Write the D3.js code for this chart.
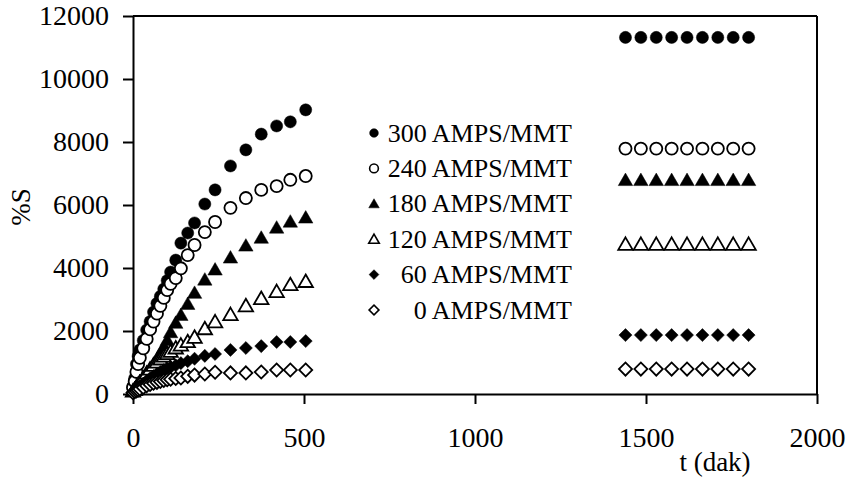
<!DOCTYPE html>
<html>
<head>
<meta charset="utf-8">
<script src="https://cdn.jsdelivr.net/npm/d3@7"></script>
<style>
body { margin: 0; background: #fff; }
text { font-family: "Liberation Serif", "Times New Roman", serif; fill: #000; }
</style>
</head>
<body>
<script>
// time points (dak) for the early measurements and the late plateau
var times = [0, 5, 10, 15, 20, 30, 40, 50, 60, 70, 80, 90, 100, 110, 125, 140, 160, 180, 210, 240, 285, 330, 375, 420, 460, 505];
var lateTimes = [1440, 1485, 1530, 1575, 1620, 1665, 1710, 1755, 1800];

// %S values
var s300 = [250, 500, 950, 1200, 1400, 1700, 2030, 2300, 2600, 2880, 3100, 3330, 3600, 3870, 4250, 4790, 5110, 5430, 6030, 6480, 7240, 7750, 8250, 8510, 8640, 9020];
var s240 = [200, 400, 700, 950, 1150, 1450, 1750, 2050, 2300, 2550, 2800, 3050, 3300, 3500, 3680, 3990, 4410, 4730, 5140, 5460, 5910, 6220, 6480, 6600, 6800, 6920];
var s180 = [100, 170, 250, 320, 400, 520, 650, 780, 950, 1100, 1300, 1480, 1700, 1950, 2250, 2500, 2850, 3200, 3620, 3940, 4320, 4700, 4950, 5270, 5460, 5590];
var s120 = [80, 130, 200, 280, 350, 500, 650, 780, 900, 1000, 1100, 1190, 1270, 1340, 1450, 1540, 1650, 1790, 2060, 2280, 2510, 2790, 3020, 3240, 3460, 3560];
var s60 = [60, 100, 150, 200, 250, 330, 420, 500, 570, 640, 700, 760, 810, 850, 910, 980, 1040, 1120, 1210, 1270, 1400, 1460, 1520, 1650, 1650, 1680];
var s0 = [40, 70, 100, 130, 160, 210, 260, 300, 340, 370, 400, 430, 450, 470, 490, 510, 560, 600, 635, 690, 670, 670, 700, 760, 760, 760];

var late300 = [11320, 11320, 11320, 11320, 11320, 11320, 11320, 11320, 11320];
var late240 = [7790, 7790, 7790, 7790, 7790, 7790, 7790, 7790, 7790];
var late180 = [6780, 6780, 6780, 6780, 6780, 6780, 6780, 6780, 6780];
var late120 = [4740, 4740, 4740, 4740, 4740, 4740, 4740, 4740, 4740];
var late60 = [1870, 1870, 1870, 1870, 1870, 1870, 1870, 1870, 1870];
var late0 = [790, 790, 790, 790, 790, 790, 790, 790, 790];

var names = ["300 AMPS/MMT", "240 AMPS/MMT", "180 AMPS/MMT", "120 AMPS/MMT", "60 AMPS/MMT", "0 AMPS/MMT"];
var xTicks = [0, 500, 1000, 1500, 2000];
var yTicks = [0, 2000, 4000, 6000, 8000, 10000, 12000];

var width = 851, height = 481;

var x = d3.scaleLinear().domain([0, 2000]).range([133, 817]);
var y = d3.scaleLinear().domain([0, 12000]).range([394, 16]);

var series = [
    {name: names[0], early: s300, late: late300, shape: "circle", filled: true},
    {name: names[1], early: s240, late: late240, shape: "circle", filled: false},
    {name: names[2], early: s180, late: late180, shape: "triangle", filled: true},
    {name: names[3], early: s120, late: late120, shape: "triangle", filled: false},
    {name: names[4], early: s60, late: late60, shape: "diamond", filled: true},
    {name: names[5], early: s0, late: late0, shape: "diamond", filled: false}
];

series.forEach(function(s) {
    s.points = times.map(function(t, i) { return {t: t, v: s.early[i]}; })
        .concat(lateTimes.map(function(t, i) { return {t: t, v: s.late[i]}; }));
});

var symbolType = {circle: d3.symbolCircle, triangle: d3.symbolTriangle, diamond: d3.symbolSquare};
var symbolSize = {circle: 115, triangle: 90, diamond: 85};

function markerTransform(s, px, py) {
    var t = "translate(" + px + "," + py + ")";
    if (s.shape == "diamond") t += " rotate(45)";
    if (s.shape == "triangle") t += " translate(0,1)";
    return t;
}

var svg = d3.select("body").append("svg")
    .attr("width", width)
    .attr("height", height);

// frame: top and right
svg.append("line")
    .attr("x1", x(0)).attr("x2", x(2000))
    .attr("y1", y(12000)).attr("y2", y(12000))
    .attr("stroke", "#000").attr("stroke-width", 2);
svg.append("line")
    .attr("x1", x(2000)).attr("x2", x(2000))
    .attr("y1", y(12000)).attr("y2", y(0))
    .attr("stroke", "#000").attr("stroke-width", 2);

var xAxis = d3.axisBottom(x).tickValues(xTicks).tickFormat(d3.format("d"))
    .tickSize(10).tickSizeOuter(0).tickPadding(23);
var yAxis = d3.axisLeft(y).tickValues(yTicks).tickFormat(d3.format("d"))
    .tickSize(10).tickSizeOuter(0).tickPadding(14);

var gx = svg.append("g")
    .attr("transform", "translate(0," + y(0) + ")")
    .call(xAxis);
var gy = svg.append("g")
    .attr("transform", "translate(" + x(0) + ",0)")
    .call(yAxis);

[gx, gy].forEach(function(g) {
    g.attr("font-family", null).attr("font-size", null);
    g.selectAll("path, line").attr("stroke", "#000").attr("stroke-width", 2);
    g.selectAll("text")
        .attr("fill", "#000")
        .style("font-size", "28px");
});

svg.append("text")
    .attr("transform", "translate(30,207) rotate(-90)")
    .attr("text-anchor", "middle")
    .style("font-size", "27px")
    .text("%S");

svg.append("text")
    .attr("x", 715)
    .attr("y", 471)
    .attr("text-anchor", "middle")
    .style("font-size", "27px")
    .text("t (dak)");

// markers
series.forEach(function(s) {
    svg.append("g").selectAll("path")
        .data(s.points)
        .enter().append("path")
        .attr("d", d3.symbol().type(symbolType[s.shape]).size(symbolSize[s.shape]))
        .attr("transform", function(d) { return markerTransform(s, x(d.t), y(d.v)); })
        .attr("fill", s.filled ? "#000" : "#fff")
        .attr("stroke", "#000")
        .attr("stroke-width", s.filled ? 0.5 : 1.8);
});

// legend
var legend = svg.selectAll(".legend")
    .data(series)
    .enter().append("g")
    .attr("class", "legend")
    .attr("transform", function(d, i) { return "translate(0," + (133 + i * 35.4) + ")"; });

legend.append("path")
    .attr("d", function(d) {
        return d3.symbol().type(symbolType[d.shape]).size(d.shape == "circle" ? 60 : 48)();
    })
    .attr("transform", function(d) { return markerTransform(d, 374, 0); })
    .attr("fill", function(d) { return d.filled ? "#000" : "#fff"; })
    .attr("stroke", "#000")
    .attr("stroke-width", function(d) { return d.filled ? 0.5 : 1.6; });

legend.append("text")
    .attr("x", 572)
    .attr("y", 0)
    .attr("dy", "0.33em")
    .attr("text-anchor", "end")
    .style("font-size", "26px")
    .text(function(d) { return d.name; });
</script>
</body>
</html>
